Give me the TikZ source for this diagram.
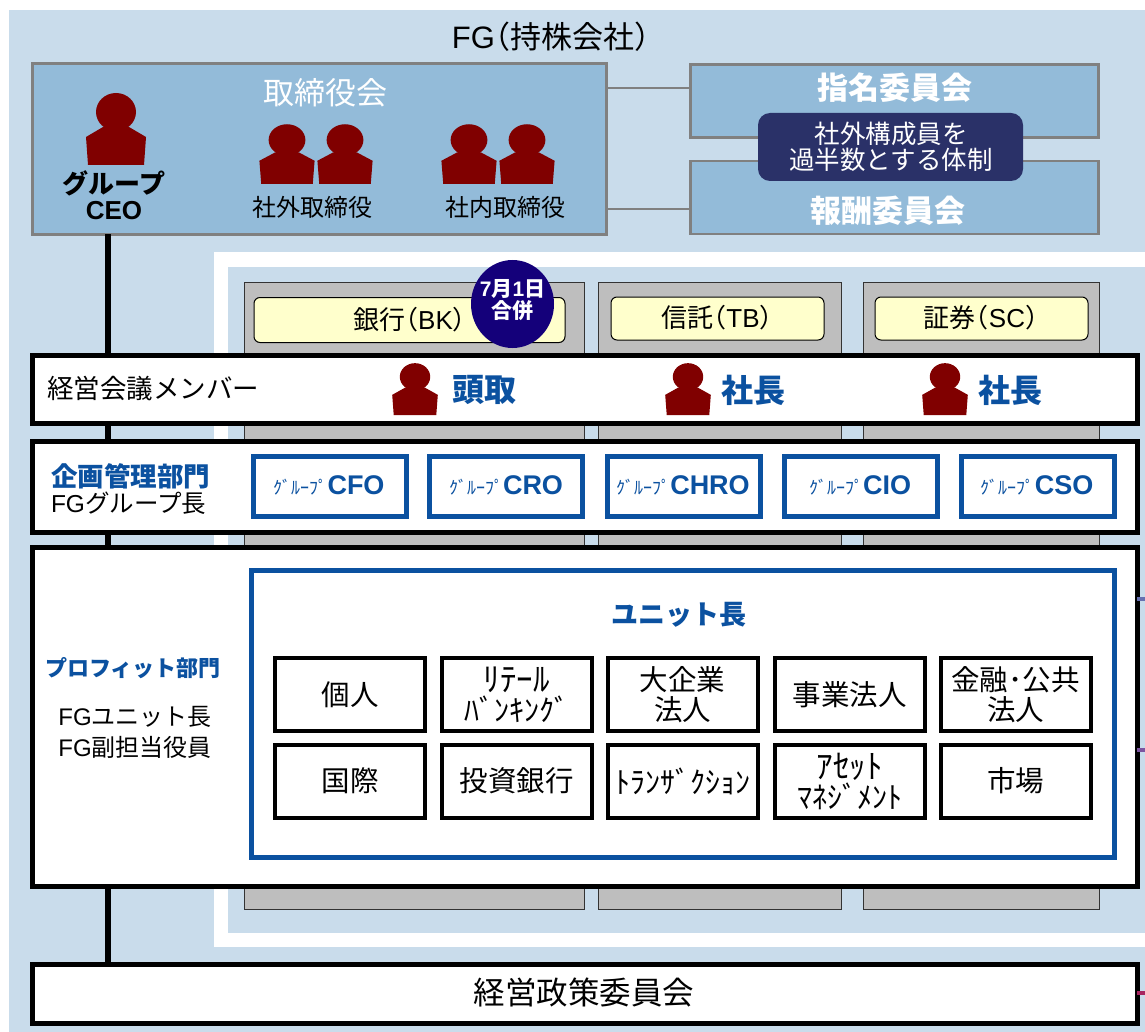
\documentclass[tikz,border=0pt]{standalone}
\usepackage{fontspec}
\usetikzlibrary{shapes.geometric}
\setmainfont{Noto Sans CJK JP}
\newfontfamily\enfont{Liberation Sans}
\newfontfamily\haltfont[RawFeature=+halt]{Noto Sans CJK JP}
\newcommand{\en}[1]{{\enfont #1}}
\newcommand{\lpr}{{\haltfont （}}
\newcommand{\rpr}{{\haltfont ）}}
\newcommand{\fsz}[1]{\fontsize{#1}{#1}\selectfont}
\definecolor{paleblue}{HTML}{C9DCEB}
\definecolor{boardblue}{HTML}{93BBD9}
\definecolor{edgegray}{HTML}{808080}
\definecolor{navybox}{HTML}{2A3168}
\definecolor{navydot}{HTML}{14007A}
\definecolor{personred}{HTML}{800000}
\definecolor{headblue}{HTML}{0B51A0}
\definecolor{colgray}{HTML}{BEBEBE}
\definecolor{paleyellow}{HTML}{FFFFCC}
\definecolor{stubblue}{HTML}{6670B0}
\definecolor{stubviolet}{HTML}{7C55A0}
\definecolor{stubred}{HTML}{A82560}
\tikzset{
  boxbase/.style={inner sep=0pt,outer sep=0pt},
  txt/.style={boxbase,align=center,font=\fsz{#1}},
  txtb/.style={boxbase,align=center,font=\fsz{#1}\bfseries},
  txtblue/.style={txtb=#1,text=headblue},
  txtwhite/.style={txt=#1,text=white},
  boardbox/.style={boxbase,draw=edgegray,line width=2.5pt,fill=boardblue},
  colbox/.style={boxbase,draw=black!80,line width=1pt,fill=colgray},
  namebox/.style={boxbase,draw=black,line width=1pt,fill=paleyellow,rounded corners=6pt},
  band/.style={boxbase,draw=black,line width=5pt,fill=white},
  bluebox/.style={boxbase,draw=headblue,line width=5pt,fill=white},
  unitbox/.style={boxbase,draw=black,line width=4pt,fill=white,minimum width=150,minimum height=73},
  link/.style={draw=edgegray,line width=2.5pt},
  spine/.style={draw=black,line width=5.5pt},
  stub/.style={line width=3.5pt},
  person/.pic={
    \fill[personred] (0,-53) ellipse (20 and 19);
    \fill[personred] (-28,0) -- (-30,-28) -- (-13,-38) -- (13,-38) -- (30,-28) -- (28,0) -- cycle;
  },
}
\begin{document}
\begin{tikzpicture}[x=1pt,y=-1pt]
  \useasboundingbox (0,0) rectangle (1145,1032);
  % backgrounds
  \fill[paleblue] (9,10) rectangle (1145,1032);
  \fill[white] (214,252) rectangle (1145,947);
  \fill[paleblue] (228,267) rectangle (1145,933);
  % holding company
  \node (title) [txt=31] at (551,37) {\en{FG}\lpr 持株会社\rpr};
  \node (board) [boardbox,minimum width=574,minimum height=171] at (319.5,149) {};
  \node (nomin) [boardbox,minimum width=408,minimum height=73] at (894.5,101) {};
  \node (remun) [boardbox,minimum width=408,minimum height=73] at (894.5,197.5) {};
  \coordinate (nomlink) at (607,88);
  \coordinate (remlink) at (607,209);
  \draw[link] (nomlink) -- (nomin.west |- nomlink);
  \draw[link] (remlink) -- (remun.west |- remlink);
  \node (nomintxt) [txtb=31,text=white] at (895,88) {指名委員会};
  \node (remuntxt) [txtb=31,text=white] at (888,211) {報酬委員会};
  \node (outer) [boxbase,fill=navybox,rounded corners=12pt,minimum width=265,minimum height=68] at (890.5,147) {};
  \node (outertxt) [txtwhite=25.5] at (891,147) {社外構成員を\\過半数とする体制};
  \node (boardtxt) [txtwhite=31] at (325,93) {取締役会};
  \pic at (116,165) [xscale=1,yscale=1] {person};
  \node (ceotxt) [txtb=26] at (114,195) {グループ\\\en{CEO}};
  \pic at (287,184) [xscale=.92,yscale=.83] {person};
  \pic at (345,184) [xscale=.92,yscale=.83] {person};
  \pic at (469,184) [xscale=.92,yscale=.83] {person};
  \pic at (527,184) [xscale=.92,yscale=.83] {person};
  \node (outdir) [txt=24] at (312,207) {社外取締役};
  \node (indir) [txt=24] at (505,207) {社内取締役};
  % operating companies
  \coordinate (spinex) at (108,0);
  \node (bkcol) [colbox,minimum width=340,minimum height=627] at (414,595.5) {};
  \node (tbcol) [colbox,minimum width=243,minimum height=627] at (719.5,595.5) {};
  \node (sccol) [colbox,minimum width=236,minimum height=627] at (981,595.5) {};
  \node (bkname) [namebox,minimum width=311,minimum height=45] at (409.5,320) {};
  \node (tbname) [namebox,minimum width=213,minimum height=43] at (717.5,318.5) {};
  \node (scname) [namebox,minimum width=213,minimum height=43] at (981.5,318.5) {};
  \node (bktxt) [txt=26] at (409.5,320) {銀行\lpr\en{BK}\rpr};
  \node (tbtxt) [txt=26] at (717,318) {信託\lpr\en{TB}\rpr};
  \node (sctxt) [txt=26] at (981,318) {証券\lpr\en{SC}\rpr};
  \node (merge) [boxbase,ellipse,fill=navydot,minimum width=83,minimum height=88] at (512.5,304) {};
  \node (mergetxt) [txtb=21,text=white] at (512.5,300) {\en{7}月\en{1}日\\[1pt]合併};
  % bands
  \node (member) [band,minimum width=1105,minimum height=68] at (584.5,389) {};
  \node (plan) [band,minimum width=1105,minimum height=91] at (584.5,486.5) {};
  \node (profit) [band,minimum width=1105,minimum height=339] at (584.5,716.5) {};
  \node (policy) [band,minimum width=1105,minimum height=59] at (584.5,993.5) {};
  \draw[spine] (board.south -| spinex) -- (member.north -| spinex);
  \draw[spine] (member.south -| spinex) -- (plan.north -| spinex);
  \draw[spine] (plan.south -| spinex) -- (profit.north -| spinex);
  \draw[spine] (profit.south -| spinex) -- (policy.north -| spinex);
  \coordinate (stubone) at (1145,599);
  \coordinate (stubtwo) at (1145,750);
  \coordinate (stubthree) at (1145,993);
  \draw[stub,draw=stubblue] (profit.east |- stubone) -- (stubone);
  \draw[stub,draw=stubviolet] (profit.east |- stubtwo) -- (stubtwo);
  \draw[stub,draw=stubred] (policy.east |- stubthree) -- (stubthree);
  % members
  \node (membertxt) [txt=26.5,anchor=west] at (47,389) {経営会議メンバー};
  \pic at (415,415) [xscale=.76,yscale=.72] {person};
  \pic at (688,415) [xscale=.76,yscale=.72] {person};
  \pic at (945,415) [xscale=.76,yscale=.72] {person};
  \node (bkhead) [txtblue=32] at (484,390) {頭取};
  \node (tbhead) [txtblue=32] at (753,390) {社長};
  \node (schead) [txtblue=32] at (1010,390) {社長};
  % planning
  \node (plantxt) [txtblue=26.5,anchor=west] at (51,476) {企画管理部門};
  \node (fgtxt) [txt=24.5,anchor=west] at (51,503) {\en{FG}グループ長};
  \node (cfo) [bluebox,minimum width=153,minimum height=60] at (329.5,486.5) {};
  \node (cro) [bluebox,minimum width=153,minimum height=60] at (506,486.5) {};
  \node (chro) [bluebox,minimum width=153,minimum height=60] at (683.5,486.5) {};
  \node (cio) [bluebox,minimum width=153,minimum height=60] at (860.5,486.5) {};
  \node (cso) [bluebox,minimum width=153,minimum height=60] at (1037.5,486.5) {};
  \node (cfotxt) [boxbase,text=headblue] at (329,485) {\fsz{18}ｸﾞﾙｰﾌﾟ\fsz{27}\en{\bfseries CFO}};
  \node (crotxt) [boxbase,text=headblue] at (506,485) {\fsz{18}ｸﾞﾙｰﾌﾟ\fsz{27}\en{\bfseries CRO}};
  \node (chrotxt) [boxbase,text=headblue] at (683,485) {\fsz{18}ｸﾞﾙｰﾌﾟ\fsz{27}\en{\bfseries CHRO}};
  \node (ciotxt) [boxbase,text=headblue] at (860,485) {\fsz{18}ｸﾞﾙｰﾌﾟ\fsz{27}\en{\bfseries CIO}};
  \node (csotxt) [boxbase,text=headblue] at (1037,485) {\fsz{18}ｸﾞﾙｰﾌﾟ\fsz{27}\en{\bfseries CSO}};
  % profit units
  \node (profittxt) [txtblue=22] at (133,668) {プロフィット部門};
  \node (fgunit) [txt=24] at (135,717) {\en{FG}ユニット長};
  \node (fgvice) [txt=24] at (135,747) {\en{FG}副担当役員};
  \node (unit) [bluebox,minimum width=863,minimum height=287] at (682.5,713.5) {};
  \node (unittxt) [txtblue=27] at (679,615) {ユニット長};
  \node (retail) [unitbox] at (350,694.5) {};
  \node (bank) [unitbox] at (516.5,694.5) {};
  \node (corp) [unitbox] at (682.5,694.5) {};
  \node (biz) [unitbox] at (849.5,694.5) {};
  \node (fin) [unitbox] at (1015.5,694.5) {};
  \node (intl) [unitbox] at (350,781) {};
  \node (ib) [unitbox] at (516.5,781) {};
  \node (trans) [unitbox] at (682.5,781) {};
  \node (asset) [unitbox] at (849.5,781) {};
  \node (market) [unitbox] at (1015.5,781) {};
  \node (retailtxt) [txt=28.5] at (retail) {個人};
  \node (banktxt) [txt=30] at (bank) {{\fsz{33}ﾘﾃｰﾙ}\\ﾊﾞﾝｷﾝｸﾞ};
  \node (corptxt) [txt=28.5] at (corp) {大企業\\[1pt]法人};
  \node (biztxt) [txt=28.5] at (biz) {事業法人};
  \node (fintxt) [txt=28.5] at (fin) {金融･公共\\[1pt]法人};
  \node (intltxt) [txt=28.5] at (intl) {国際};
  \node (ibtxt) [txt=28.5] at (ib) {投資銀行};
  \node (transtxt) [txt=30] at (trans) {ﾄﾗﾝｻﾞｸｼｮﾝ};
  \node (assettxt) [txt=30] at (asset) {{\fsz{33}ｱｾｯﾄ}\\ﾏﾈｼﾞﾒﾝﾄ};
  \node (markettxt) [txt=28.5] at (market) {市場};
  \node (policytxt) [txt=31.5] at (584,993) {経営政策委員会};
\end{tikzpicture}
\end{document}
